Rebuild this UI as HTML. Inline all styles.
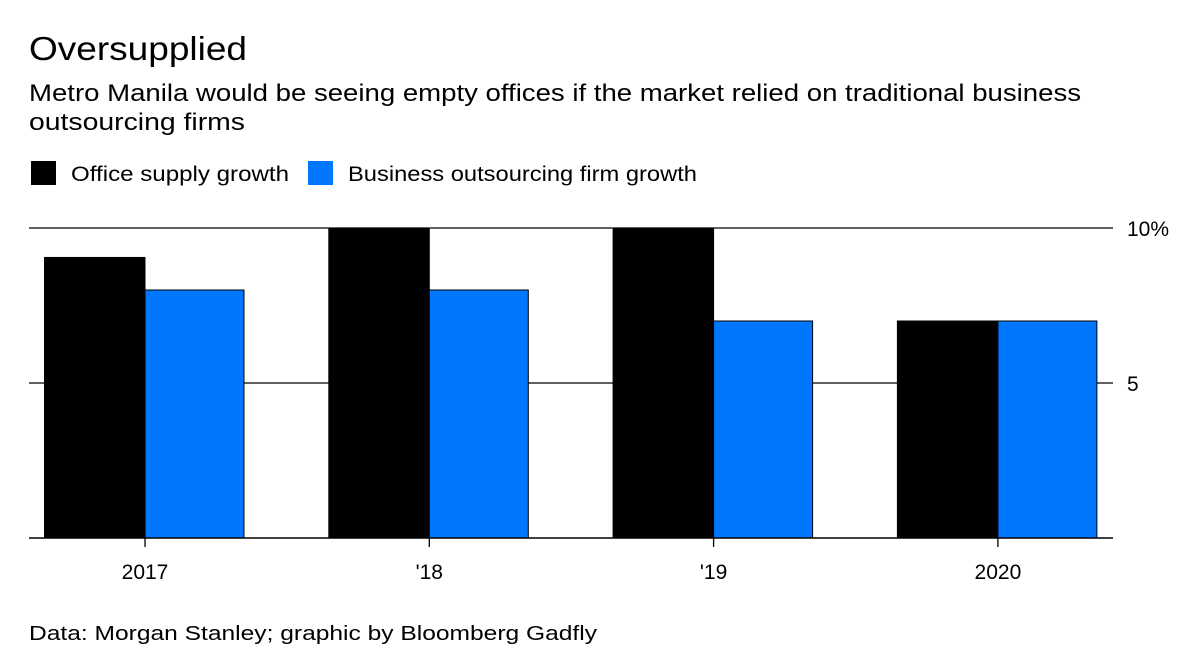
<!DOCTYPE html>
<html><head><meta charset="utf-8"><style>
body{margin:0;background:#fff;font-family:"Liberation Sans",sans-serif;}
svg text{font-family:"Liberation Sans",sans-serif;}
</style></head><body>
<svg width="1200" height="666" xmlns="http://www.w3.org/2000/svg" id="chart">
<text x="29" y="60" font-size="33" fill="#000" textLength="218" lengthAdjust="spacingAndGlyphs">Oversupplied</text>
<text x="29" y="101" font-size="24" fill="#000" textLength="1052" lengthAdjust="spacingAndGlyphs">Metro Manila would be seeing empty offices if the market relied on traditional business</text>
<text x="29" y="130" font-size="24" fill="#000" textLength="216" lengthAdjust="spacingAndGlyphs">outsourcing firms</text>
<g>
<rect x="31" y="161" width="25" height="24" fill="#000"/>
<text x="71" y="181" font-size="21" textLength="218" lengthAdjust="spacingAndGlyphs">Office supply growth</text>
<rect x="308" y="161" width="25" height="24" fill="#0077FF"/>
<text x="348" y="181" font-size="21" textLength="349" lengthAdjust="spacingAndGlyphs">Business outsourcing firm growth</text>
</g>
<g id="grid"></g><g id="bars"></g><g id="axes"></g>
<text x="29" y="640" font-size="20" textLength="568" lengthAdjust="spacingAndGlyphs">Data: Morgan Stanley; graphic by Bloomberg Gadfly</text>
</svg>
<script>
const categories=["2017","'18","'19","2020"];
const officeSupply=[9.05,10,10,7];
const bpoGrowth=[8,8,7,7];
const yTicks=[5,10];
const yTickLabels=["5","10%"];
const NS="http://www.w3.org/2000/svg";
const y0=538, perUnit=31;
function y(v){return y0-v*perUnit;}
function xc(i){return 145+i*284.3;}
function mk(tag,attrs,parent){const e=document.createElementNS(NS,tag);for(const k in attrs)e.setAttribute(k,attrs[k]);document.getElementById(parent).appendChild(e);return e;}
yTicks.forEach((t,i)=>{
  const l=mk('line',{x1:29,x2:1113,y1:y(t),y2:y(t),stroke:'#000','stroke-width':1.3},'grid');
  
  
  const tx=mk('text',{x:1127,y:y(t)+8,'font-size':21},'axes');
  tx.textContent=yTickLabels[i];
  
  
});
categories.forEach((c,i)=>{
  const cx=xc(i);
  const b1=mk('rect',{x:cx-100.5,y:y(officeSupply[i]),width:100.5,height:y0-y(officeSupply[i]),fill:'#000',stroke:'#000','stroke-width':1},'bars');
  
  
  const b2=mk('rect',{x:cx,y:y(bpoGrowth[i]),width:99,height:y0-y(bpoGrowth[i]),fill:'#0077FF',stroke:'#000','stroke-width':1},'bars');
  
  
  const tk=mk('line',{x1:cx,x2:cx,y1:y0,y2:y0+9,stroke:'#000','stroke-width':1.3},'axes');
  
  
  const lb=mk('text',{x:cx,y:y0+41,'font-size':21,'text-anchor':'middle'},'axes');
  lb.textContent=c;
  
  
});
const base=mk('line',{x1:29,x2:1113,y1:y0,y2:y0,stroke:'#000','stroke-width':1.5},'axes');


</script>
</body></html>
